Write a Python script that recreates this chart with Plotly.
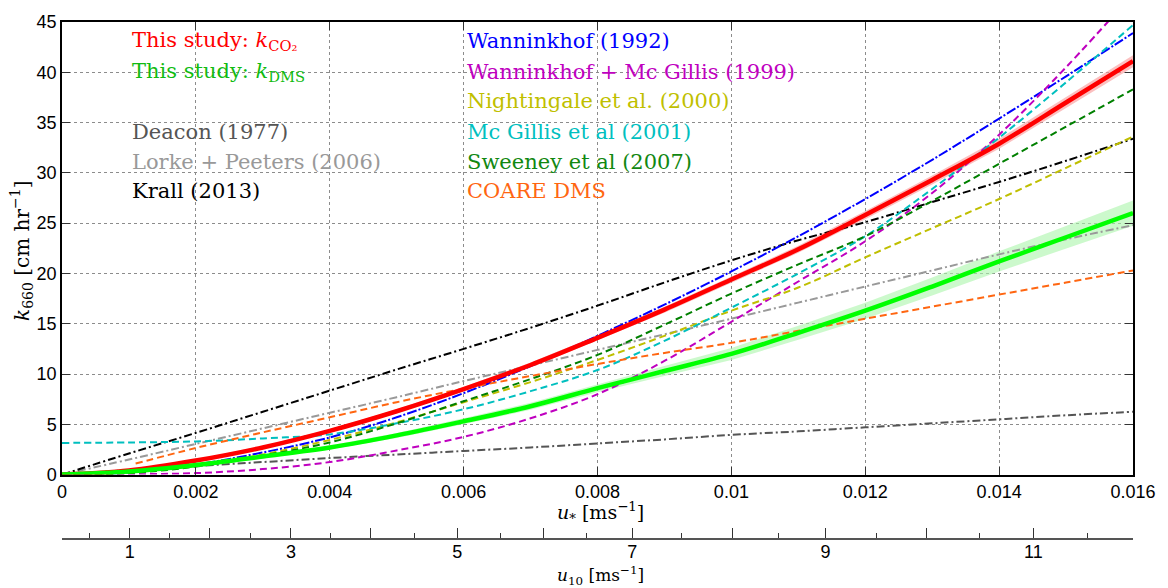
import plotly.graph_objects as go

# ---------------- data ----------------
u_star = [0, 0.001, 0.002, 0.003, 0.004, 0.005, 0.006, 0.007, 0.008,
          0.009, 0.010, 0.011, 0.012, 0.013, 0.014, 0.015, 0.016]

k_co2 = [0, 0.4, 1.4, 2.7, 4.35, 6.3, 8.5, 10.9, 13.6, 16.4, 19.4, 22.4, 25.8, 29.3, 32.9, 37.0, 41.1]
k_co2_err = [0.05, 0.1, 0.1, 0.15, 0.15, 0.2, 0.2, 0.25, 0.25, 0.3, 0.3, 0.35, 0.4, 0.45, 0.5, 0.55, 0.6]

k_dms = [0, 0.3, 0.95, 1.8, 2.7, 3.9, 5.3, 6.8, 8.6, 10.3, 12.0, 14.1, 16.3, 18.7, 21.2, 23.6, 26.0]
k_dms_err = [0.05, 0.1, 0.15, 0.2, 0.2, 0.25, 0.3, 0.35, 0.4, 0.5, 0.6, 0.7, 0.8, 0.9, 1.0, 1.1, 1.25]

wanninkhof_1992 = [0, 0.2, 1.0, 2.2, 3.7, 5.7, 8.1, 10.8, 13.8, 16.9, 20.2, 23.7, 27.4, 31.3, 35.4, 39.6, 43.9]
wanninkhof_mcgillis_1999 = [0, 0.03, 0.15, 0.55, 1.25, 2.4, 3.75, 5.6, 8.0, 11.3, 15.2, 19.2, 23.2, 28.0, 33.8, 40.5, 47.8]
nightingale_2000 = [0, 0.2, 0.9, 2.0, 3.45, 5.2, 7.2, 9.2, 11.4, 13.8, 16.3, 18.6, 21.6, 24.5, 27.4, 30.5, 33.6]
mcgillis_2001 = [3.15, 3.2, 3.3, 3.6, 4.0, 5.1, 6.5, 8.3, 10.4, 13.3, 16.6, 20.0, 23.7, 28.4, 33.5, 39.0, 44.7]
sweeney_2007 = [0, 0.15, 0.8, 1.9, 3.2, 5.1, 7.3, 9.5, 11.9, 14.9, 18.0, 20.9, 23.7, 27.2, 30.9, 34.6, 38.3]
deacon_1977 = [0, 0.45, 0.85, 1.25, 1.65, 2.0, 2.35, 2.7, 3.1, 3.5, 3.95, 4.3, 4.7, 5.1, 5.5, 5.9, 6.25]
lorke_peeters_2006 = [0, 1.5, 3.05, 4.6, 6.15, 7.7, 9.3, 10.85, 12.4, 13.95, 15.5, 17.1, 18.7, 20.3, 21.9, 23.4, 24.8]
krall_2013 = [0, 2.1, 4.15, 6.25, 8.35, 10.45, 12.5, 14.6, 16.8, 19.1, 21.3, 23.3, 25.1, 27.1, 29.1, 31.2, 33.4]

coare_u_star = [0.0011, 0.002, 0.003, 0.004, 0.005, 0.006, 0.007, 0.008,
                0.009, 0.010, 0.011, 0.012, 0.013, 0.014, 0.015, 0.016]
coare_dms = [1.1, 2.65, 4.2, 5.7, 7.2, 8.55, 9.8, 11.0, 12.1, 13.1, 14.3, 15.5, 16.7, 17.9, 19.1, 20.3]

x_tickvals = [0, 0.002, 0.004, 0.006, 0.008, 0.010, 0.012, 0.014, 0.016]
x_ticktext = ["0", "0.002", "0.004", "0.006", "0.008", "0.01", "0.012", "0.014", "0.016"]
y_tickvals = [0, 5, 10, 15, 20, 25, 30, 35, 40, 45]

# u10 axis: u* equivalents of integer and half-integer u10 values
u10_major_ustar = [0.001011, 0.002201, 0.003420, 0.004610, 0.005903, 0.007197,
                   0.008520, 0.010022, 0.011405, 0.012922, 0.014513]
u10_major_labels = ["1", "", "3", "", "5", "", "7", "", "9", "", "11"]
u10_minor_ustar = [0.000015, 0.000416, 0.001606, 0.002810, 0.004015, 0.005264, 0.006558,
                   0.007836, 0.009249, 0.010706, 0.012164, 0.013710, 0.015316]

# ---------------- figure ----------------
W, H = 1168, 588
ML, MR, MT, MB = 62, 30, 17, 49
plot_w = W - ML - MR
plot_h = H - MT - MB
y_dom0 = (H - MB - 474) / plot_h

DASH = "7px,4px"
DASHDOT = "8px,3px,2px,3px"

fig = go.Figure()

def band(y, err, color):
    upper = [a + b for a, b in zip(y, err)]
    lower = [a - b for a, b in zip(y, err)]
    fig.add_trace(go.Scatter(x=u_star + u_star[::-1], y=upper + lower[::-1],
                             fill="toself", fillcolor=color, line=dict(width=0),
                             mode="lines", hoverinfo="skip", showlegend=False))

band(k_co2, k_co2_err, "rgba(248,150,150,0.6)")
band(k_dms, k_dms_err, "rgba(170,245,170,0.6)")

refs = [
    (deacon_1977, "#555555", DASHDOT),
    (lorke_peeters_2006, "#999999", DASHDOT),
    (krall_2013, "#000000", DASHDOT),
    (wanninkhof_1992, "#0000ff", "10px,2px,2px,2px"),
    (wanninkhof_mcgillis_1999, "#bf00bf", DASH),
    (nightingale_2000, "#bfbf00", DASH),
    (mcgillis_2001, "#00bfbf", DASH),
    (sweeney_2007, "#008000", DASH),
]
for ys, col, dash in refs:
    fig.add_trace(go.Scatter(x=u_star, y=ys, mode="lines", line_shape="spline",
                             line=dict(color=col, width=2, dash=dash), showlegend=False))
fig.add_trace(go.Scatter(x=coare_u_star, y=coare_dms, mode="lines", line_shape="spline",
                         line=dict(color="#ff6611", width=2, dash=DASH), showlegend=False))

fig.add_trace(go.Scatter(x=u_star, y=k_co2, mode="lines", line_shape="spline",
                         line=dict(color="#ff0000", width=4.5), showlegend=False))
fig.add_trace(go.Scatter(x=u_star, y=k_dms, mode="lines", line_shape="spline",
                         line=dict(color="#00ff00", width=4.5), showlegend=False))

# dummy trace so the u10 axis is drawn
fig.add_trace(go.Scatter(x=[0.008], y=[-100], xaxis="x2", yaxis="y", mode="markers",
                         marker=dict(opacity=0), hoverinfo="skip", showlegend=False))

tickfont = dict(family="Liberation Sans, Arial, sans-serif", size=18, color="black")
serif = "DejaVu Serif"

fig.update_layout(
    width=W, height=H, autosize=False,
    margin=dict(l=ML, r=MR, t=MT, b=MB),
    paper_bgcolor="white", plot_bgcolor="white",
    showlegend=False,
    xaxis=dict(range=[0, 0.016], tickmode="array", tickvals=x_tickvals, ticktext=x_ticktext,
               showgrid=True, gridcolor="#8c8c8c", griddash="dot", gridwidth=1,
               zeroline=False, showline=True, linecolor="black", linewidth=1.5,
               mirror="ticks", ticks="inside", ticklen=8, tickcolor="#333",
               tickfont=tickfont, anchor="y"),
    yaxis=dict(range=[0, 45], tickmode="array", tickvals=y_tickvals,
               domain=[y_dom0, 1],
               showgrid=True, gridcolor="#8c8c8c", griddash="dot", gridwidth=1,
               zeroline=False, showline=True, linecolor="black", linewidth=1.5,
               mirror="ticks", ticks="inside", ticklen=8, tickcolor="#333",
               tickfont=tickfont),
    xaxis2=dict(range=[0, 0.016], overlaying="x", anchor="free", position=0, side="bottom",
                tickmode="array", tickvals=u10_major_ustar, ticktext=u10_major_labels,
                showgrid=False, zeroline=False, showline=True, linecolor="#555",
                linewidth=1.5, ticks="inside", ticklen=10, tickcolor="#333", tickwidth=1,
                tickfont=tickfont, ticklabelstandoff=-3,
                minor=dict(tickmode="array", tickvals=u10_minor_ustar, ticks="inside",
                           ticklen=5, tickcolor="#333", showgrid=False)),
)

def px_to_paper_y(py):
    return (H - MB - py) / plot_h

def px_to_paper_x(px):
    return (px - ML) / plot_w

labels_left = [
    ("This study: <i>k</i><sub>CO₂</sub>", "#ff0000", 36),
    ("This study: <i>k</i><sub>DMS</sub>", "#11bb11", 67),
    ("Deacon (1977)", "#555555", 128),
    ("Lorke + Peeters (2006)", "#999999", 158),
    ("Krall (2013)", "#000000", 188),
]
labels_right = [
    ("Wanninkhof (1992)", "#0000ff", 36),
    ("Wanninkhof + Mc Gillis (1999)", "#bf00bf", 67),
    ("Nightingale et al. (2000)", "#bfbf00", 97),
    ("Mc Gillis et al (2001)", "#00bfbf", 128),
    ("Sweeney et al (2007)", "#118811", 158),
    ("COARE DMS", "#ff6611", 188),
]
for items, x0 in ((labels_left, 130), (labels_right, 467)):
    for txt, col, py in items:
        fig.add_annotation(text=txt, xref="paper", yref="paper",
                           x=px_to_paper_x(x0), y=px_to_paper_y(py),
                           xanchor="left", yanchor="middle", showarrow=False,
                           font=dict(family=serif, size=21, color=col))

# axis titles
fig.add_annotation(text="<i>u</i><sub>*</sub> [ms<sup>−1</sup>]", xref="paper", yref="paper",
                   x=px_to_paper_x(603), y=px_to_paper_y(512), xanchor="center", yanchor="middle",
                   showarrow=False, font=dict(family=serif, size=19, color="black"))
fig.add_annotation(text="<i>u</i><sub>10</sub> [ms<sup>−1</sup>]", xref="paper", yref="paper",
                   x=px_to_paper_x(603), y=px_to_paper_y(576), xanchor="center", yanchor="middle",
                   showarrow=False, font=dict(family=serif, size=17, color="black"))
fig.add_annotation(text="<i>k</i><sub>660</sub> [cm hr<sup>−1</sup>]", xref="paper", yref="paper",
                   x=px_to_paper_x(22), y=px_to_paper_y(248), xanchor="center", yanchor="middle",
                   textangle=-90, showarrow=False, font=dict(family=serif, size=20, color="black"))

fig.write_html("out.html")
